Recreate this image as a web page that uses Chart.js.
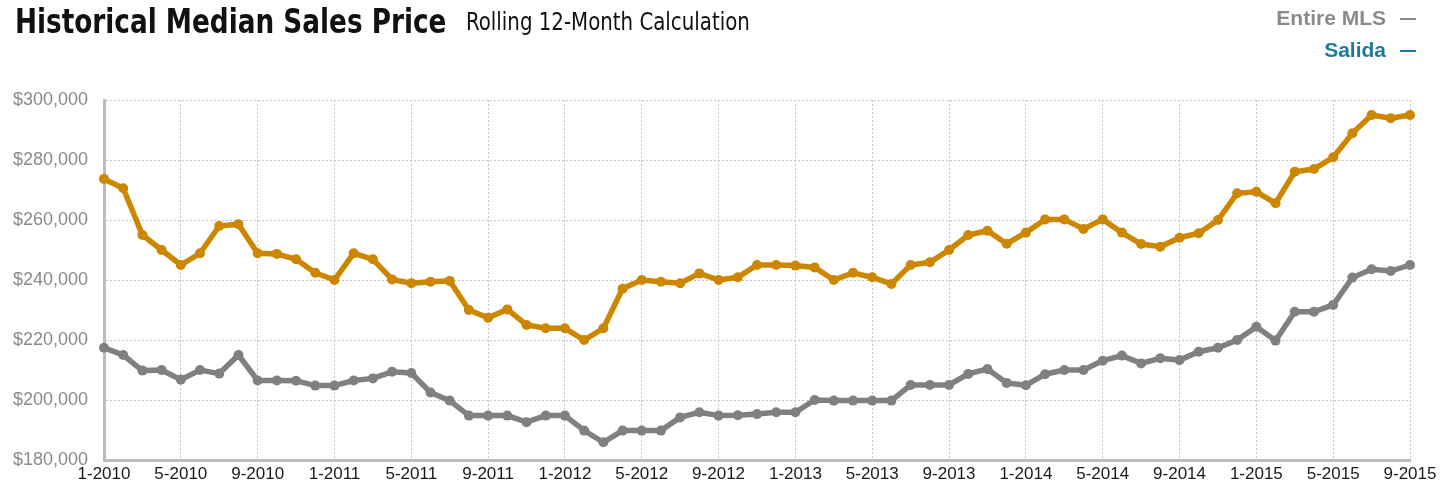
<!DOCTYPE html>
<html>
<head>
<meta charset="utf-8">
<script src="https://cdn.jsdelivr.net/npm/chart.js@4/dist/chart.umd.min.js"></script>
<style>
  html, body { margin: 0; padding: 0; background: #fff; }
  #wrap { position: relative; width: 1452px; height: 493px; overflow: hidden; }
  #chartBox { position: absolute; left: 0; top: 0; width: 1452px; height: 493px; }
  .head { position: absolute; white-space: nowrap; font-family: "Liberation Sans Narrow", "DejaVu Sans Condensed", sans-serif; color: #111; transform-origin: 0 0; }
  #title { left: 15px; top: 1px; font-weight: bold; font-size: 34px; transform: scaleX(0.86); }
  #subtitle { left: 466px; top: 7px; font-size: 25px; transform: scaleX(0.88); }
  #legend { position: absolute; right: 36px; top: 4px; text-align: right; font-family: "Liberation Sans", Arial, sans-serif; font-weight: bold; font-size: 21px; }
  #legend div { height: 32px; line-height: 28px; }
  #legend .dash { display: inline-block; width: 16px; height: 2px; margin-left: 14px; vertical-align: middle; }
</style>
</head>
<body>
<div id="wrap">
  <div id="chartBox"><canvas id="salesChart"></canvas></div>
  <div class="head" id="title">Historical Median Sales Price</div>
  <div class="head" id="subtitle">Rolling 12-Month Calculation</div>
  <div id="legend"></div>
</div>
<script>
'use strict';
// months shown on the x axis
var monthLabels = [
  '1-2010','2-2010','3-2010','4-2010','5-2010','6-2010','7-2010','8-2010','9-2010','10-2010','11-2010','12-2010',
  '1-2011','2-2011','3-2011','4-2011','5-2011','6-2011','7-2011','8-2011','9-2011','10-2011','11-2011','12-2011',
  '1-2012','2-2012','3-2012','4-2012','5-2012','6-2012','7-2012','8-2012','9-2012','10-2012','11-2012','12-2012',
  '1-2013','2-2013','3-2013','4-2013','5-2013','6-2013','7-2013','8-2013','9-2013','10-2013','11-2013','12-2013',
  '1-2014','2-2014','3-2014','4-2014','5-2014','6-2014','7-2014','8-2014','9-2014','10-2014','11-2014','12-2014',
  '1-2015','2-2015','3-2015','4-2015','5-2015','6-2015','7-2015','8-2015','9-2015'
];
// rolling 12 month median price
var salidaPrices = [
  273700, 270600, 255000, 250000, 245000, 248900, 258000, 258600, 248900, 248700, 246900, 242400,
  240000, 248900, 246900, 240200, 238900, 239400, 239700, 230000, 227400, 230200, 225000, 223900,
  223900, 220000, 223900, 237100, 240000, 239400, 238900, 242200, 240000, 240900, 245000, 245000,
  244800, 244200, 240000, 242400, 240900, 238700, 245000, 245900, 250000, 255000, 256400, 252100,
  255800, 260200, 260200, 257000, 260200, 255800, 252000, 251100, 254100, 255600, 260000, 268900,
  269400, 265600, 276100, 277000, 280900, 288900, 295000, 293900, 295000
];
var entireMlsPrices = [
  217400, 215000, 209800, 210000, 206800, 210000, 208800, 215000, 206500, 206500, 206400, 204800,
  204800, 206500, 207200, 209400, 209000, 202500, 199800, 194800, 194800, 194800, 192600, 194800,
  194800, 189800, 185900, 189800, 189800, 189800, 194200, 195900, 194800, 194900, 195300, 195900,
  195900, 200000, 199800, 199800, 199800, 199800, 205000, 205000, 205000, 208700, 210300, 205700,
  204900, 208600, 210000, 210000, 213100, 214800, 212200, 213900, 213300, 216100, 217400, 220000,
  224400, 219800, 229400, 229400, 231700, 240800, 243600, 243000, 245000
];
var yTicks = { min: 180000, max: 300000, step: 20000 };

var seriesInfo = [
  { name: 'Entire MLS', data: entireMlsPrices, line: '#808080', legend: '#8a8a8a' },
  { name: 'Salida', data: salidaPrices, line: '#cc8600', legend: '#1e7b96' }
];

// html legend in the top right corner, dash after the name
var legendBox = document.getElementById('legend');
for (var s = 0; s < seriesInfo.length; s++) {
  var row = document.createElement('div');
  row.style.color = seriesInfo[s].legend;
  row.innerHTML = seriesInfo[s].name + '<span class="dash" style="background:' + seriesInfo[s].legend + '"></span>';
  legendBox.appendChild(row);
}

var gridColor = '#c4c4c4';
var ctx = document.getElementById('salesChart').getContext('2d');
var chart = new Chart(ctx, {
  type: 'line',
  data: {
    labels: monthLabels,
    datasets: seriesInfo.map(function (info) {
      return {
        label: info.name,
        data: info.data,
        borderColor: info.line,
        backgroundColor: info.line,
        pointBackgroundColor: info.line,
        pointBorderWidth: 0,
        pointRadius: 5,
        borderWidth: 5.5,
        tension: 0,
        clip: false
      };
    })
  },
  options: {
    responsive: true,
    maintainAspectRatio: false,
    animation: false,
    layout: { padding: { top: 100, right: 42, bottom: 0, left: 0 } },
    plugins: {
      legend: { display: false },
      tooltip: { enabled: false }
    },
    scales: {
      x: {
        grid: {
          color: function (c) { return c.index % 4 === 0 ? gridColor : 'rgba(0,0,0,0)'; },
          lineWidth: 1,
          drawTicks: false
        },
        border: { display: true, color: '#bdbdbd', width: 3, dash: [2, 2] },
        ticks: {
          autoSkip: false,
          maxRotation: 0,
          padding: 4,
          color: '#1a1a1a',
          font: { family: '"Liberation Sans", Arial, sans-serif', size: 17 },
          callback: function (v, i) { return i % 4 === 0 ? monthLabels[i] : ''; }
        },
        afterFit: function (scale) { scale.height = 33; }
      },
      y: {
        min: yTicks.min,
        max: yTicks.max,
        grid: { color: gridColor, lineWidth: 1, drawTicks: false },
        border: { display: true, color: '#bdbdbd', width: 3, dash: [2, 2] },
        ticks: {
          stepSize: yTicks.step,
          padding: 16,
          color: '#8a8a8a',
          font: { family: '"Liberation Sans", Arial, sans-serif', size: 18 },
          callback: function (v) { return '$' + v.toLocaleString('en-US'); }
        },
        afterFit: function (scale) { scale.width = 104; }
      }
    }
  }
});
</script>
</body>
</html>
